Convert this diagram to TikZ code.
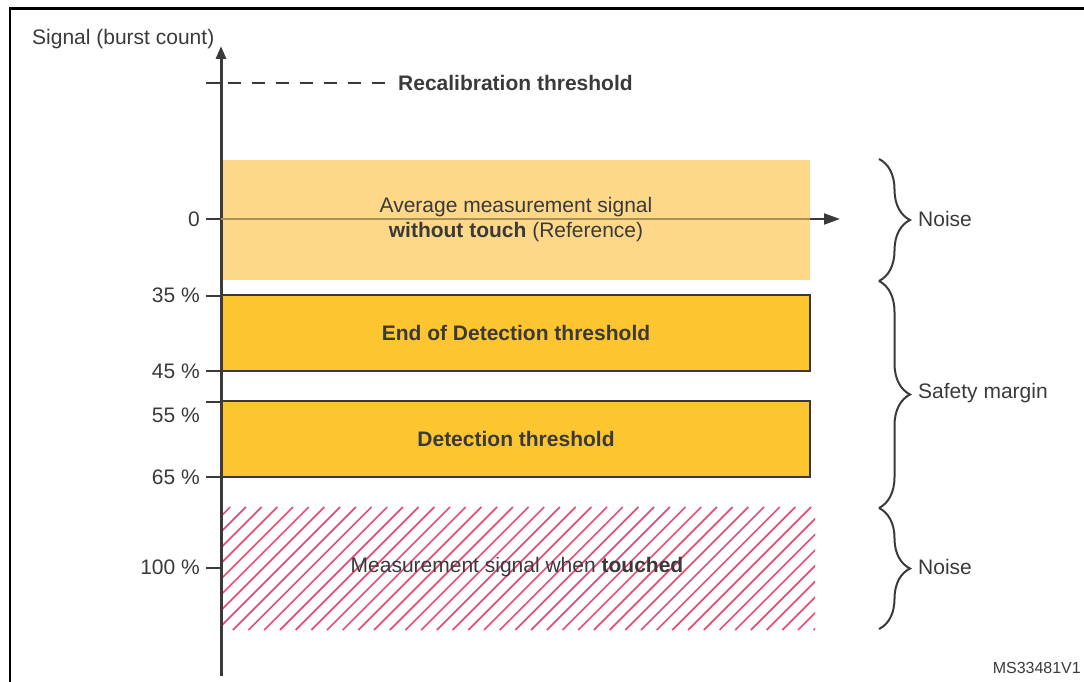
\documentclass[tikz,border=0pt]{standalone}
\usepackage{fontspec}
\setmainfont{Liberation Sans}
\usetikzlibrary{arrows.meta,decorations.pathreplacing}
\definecolor{txt}{RGB}{58,58,58}
\definecolor{reffill}{RGB}{254,216,137}
\definecolor{detfill}{RGB}{253,197,47}
\definecolor{hatchcol}{RGB}{230,78,118}
\definecolor{reftan}{RGB}{170,145,92}
\tikzset{
  lbl/.style={font=\fontsize{21}{25}\selectfont, text=txt, inner sep=0pt},
  smalllbl/.style={font=\fontsize{16}{19}\selectfont, text=txt, inner sep=0pt},
  tickline/.style={draw=txt, line width=2pt},
  refbox/.style={fill=reffill, inner sep=0pt, minimum width=587pt, minimum height=120pt},
  detbox/.style={fill=detfill, draw=txt, line width=1.5pt, inner sep=0pt, minimum width=588pt, minimum height=76pt, font=\fontsize{21}{25}\selectfont\bfseries, text=txt},
  hatchbox/.style={inner sep=0pt, minimum width=592pt, minimum height=123pt},
  bracestyle/.style={draw=txt, line width=2pt, decorate, decoration={brace, amplitude=31pt}},
}
\begin{document}
\begin{tikzpicture}[x=1pt, y=-1pt]
\useasboundingbox (0,0) rectangle (1084,682);
% frame
\draw[line width=2.5pt, black] (10,690) -- (10,8.5) -- (1090,8.5);

% boxes
\node[refbox] (ref) at (516.5,220) {};
\node[detbox] (eod) at (516,333) {End of Detection threshold};
\node[detbox] (det) at (516,439) {Detection threshold};
\node[hatchbox] (touch) at (519,568.5) {};
\begin{scope}
  \clip (touch.north west) rectangle (touch.south east);
  \foreach \i in {0,...,46} {
    \draw[hatchcol, line width=1.7pt] ({214.5+15.7*\i},507) -- ({214.5+15.7*\i-123},630);
  }
\end{scope}

% axis
\coordinate (axb) at (221,676);
\coordinate (axt) at (221,46);
\draw[draw=txt, line width=3pt, -{Triangle[length=13pt,width=10pt]}] (axb) -- (axt);
\node[lbl, anchor=west] (ylabel) at (32,39) {Signal (burst count)};

% recalibration threshold
\coordinate (rc0) at (206,83);
\coordinate (rc1) at (221,83);
\coordinate (rc2) at (228,83);
\coordinate (rc3) at (387,83);
\draw[tickline] (rc0) -- (rc1);
\draw[draw=txt, line width=2pt, dash pattern=on 13pt off 11pt] (rc2) -- (rc3);
\node[lbl, anchor=west, font=\fontsize{21}{25}\selectfont\bfseries] (recal) at (398,83) {Recalibration threshold};

% zero line
\coordinate (z0) at (206,219);
\coordinate (z1) at (221,219);
\coordinate (z2) at (810,219);
\coordinate (z3) at (840,219);
\draw[tickline] (z0) -- (z1);
\draw[draw=reftan, line width=2.2pt] (z1) -- (z2);
\draw[draw=txt, line width=2pt, -{Triangle[length=16pt,width=11pt]}] (z2) -- (z3);
\node[lbl, align=center] (reftext) at (516,219.5) {Average measurement signal\\\textbf{without touch} (Reference)};

% tick marks
\coordinate (t35a) at (206,295.5); \coordinate (t35b) at (222,295.5);
\coordinate (t45a) at (206,371); \coordinate (t45b) at (222,371);
\coordinate (t55a) at (206,401.5); \coordinate (t55b) at (222,401.5);
\coordinate (t65a) at (206,476.5); \coordinate (t65b) at (222,476.5);
\coordinate (t100a) at (206,567.5); \coordinate (t100b) at (221,567.5);
\draw[tickline] (t35a) -- (t35b);
\draw[tickline] (t45a) -- (t45b);
\draw[tickline] (t55a) -- (t55b);
\draw[tickline] (t65a) -- (t65b);
\draw[tickline] (t100a) -- (t100b);

% tick labels
\node[lbl, anchor=east] (l0) at (200,219) {0};
\node[lbl, anchor=east] (l35) at (200,295) {35 \%};
\node[lbl, anchor=east] (l45) at (200,371) {45 \%};
\node[lbl, anchor=east] (l55) at (200,415) {55 \%};
\node[lbl, anchor=east] (l65) at (200,477) {65 \%};
\node[lbl, anchor=east] (l100) at (200,567) {100 \%};

% touched text
\node[lbl] (touchtext) at (517,567) {Measurement signal when \textbf{touched}};

% braces
\coordinate (b1) at (879,159);
\coordinate (b2) at (879,281);
\coordinate (b3) at (879,508);
\coordinate (b4) at (879,629);
\draw[bracestyle] (b1) -- (b2);
\draw[bracestyle] (b2) -- (b3);
\draw[bracestyle] (b3) -- (b4);
\node[lbl, anchor=west] (n1) at (918,219) {Noise};
\node[lbl, anchor=west] (sm) at (918,393) {Safety margin};
\node[lbl, anchor=west] (n2) at (918,567) {Noise};

\node[smalllbl, anchor=east] (ms) at (1081,668) {MS33481V1};
\end{tikzpicture}
\end{document}
